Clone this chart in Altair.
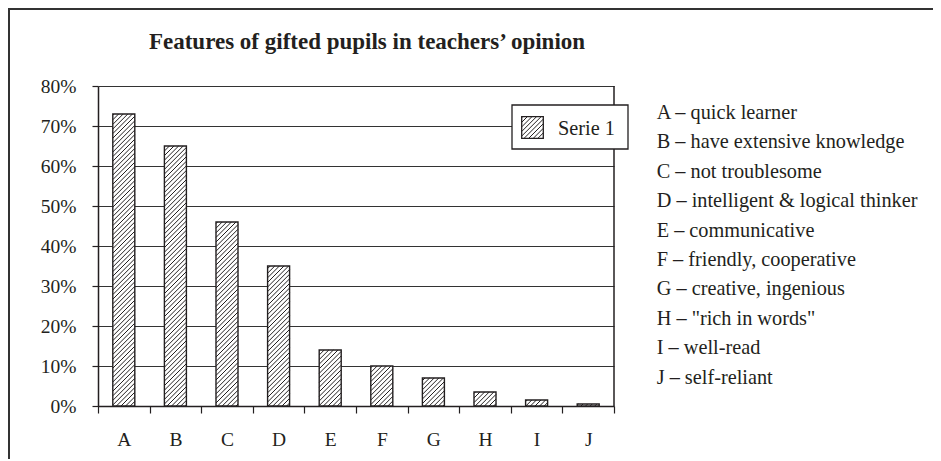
import json
import math
import altair as alt
import pandas as pd

# ---------------- data ----------------
categories = ["A", "B", "C", "D", "E", "F", "G", "H", "I", "J"]
values = [73, 65, 46, 35, 14, 10, 7, 3.5, 1.5, 0.5]
descriptions = [
    "quick learner",
    "have extensive knowledge",
    "not troublesome",
    "intelligent & logical thinker",
    "communicative",
    "friendly, cooperative",
    "creative, ingenious",
    "\"rich in words\"",
    "well-read",
    "self-reliant",
]
y_ticks = [0, 10, 20, 30, 40, 50, 60, 70, 80]
series_name = "Serie 1"
chart_title = "Features of gifted pupils in teachers\u2019 opinion"

# ---------------- layout / style ----------------
W, H = 516, 320
Y_MAX = 80
N = len(categories)
PX_X = W / N
PX_Y = H / Y_MAX
BAR_W = 22
HATCH_STEP = 4.6
INK = "#231f20"
FONT = "Liberation Serif"
FS = 19.5
FS_DESC = 20.3


def ux(px):
    return px / PX_X


def uy(py):
    # py: screen pixels below the plot's top edge
    return (H - py) / PX_Y


xs = alt.Scale(domain=[0, N], nice=False, zero=False)
ys = alt.Scale(domain=[0, Y_MAX], nice=False)

x_axis = alt.Axis(
    values=list(range(N + 1)),
    labelExpr=f"datum.value < {N} ? {json.dumps(categories)}[datum.value] : ''",
    labelOffset=PX_X / 2,
    labelFlush=False,
    labelOverlap=False,
    grid=False,
    tickSize=7,
    tickWidth=1.2,
    tickColor=INK,
    domainColor=INK,
    domainWidth=1.5,
    labelPadding=17,
    labelFont=FONT,
    labelFontSize=FS,
    labelColor=INK,
    labelBaseline="top",
    title=None,
)
y_axis = alt.Axis(
    values=y_ticks,
    labelExpr="datum.value + '%'",
    labelFlush=False,
    labelOverlap=False,
    grid=True,
    gridColor="#333333",
    gridWidth=1,
    tickSize=6,
    tickWidth=1.2,
    tickColor=INK,
    domainColor=INK,
    domainWidth=1.5,
    labelPadding=16,
    labelFont=FONT,
    labelFontSize=FS,
    labelColor=INK,
    title=None,
)


def X(f):
    return alt.X(f, scale=xs, axis=x_axis)


def Y(f):
    return alt.Y(f, scale=ys, axis=y_axis)


# ---------------- derived tables ----------------
bar_rows, hatch_rows = [], []
for i, (c, v) in enumerate(zip(categories, values)):
    cx = (i + 0.5) * PX_X
    u0, u1 = cx - BAR_W / 2, cx + BAR_W / 2
    h = v * PX_Y
    bar_rows.append(dict(cat=c, value=v, x0=ux(u0), x1=ux(u1), base=0))
    k0 = math.floor((u0 - h) / HATCH_STEP) - 1
    k1 = math.ceil(u1 / HATCH_STEP) + 1
    for k in range(k0, k1 + 1):
        cc = k * HATCH_STEP
        wl = max(0.0, u0 - cc)
        wu = min(h, u1 - cc)
        if wu - wl > 0.4:
            hatch_rows.append(dict(x=ux(cc + wl), y=wl / PX_Y, x2=ux(cc + wu), y2=wu / PX_Y))

bars = pd.DataFrame(bar_rows)
hatch = pd.DataFrame(hatch_rows)

# legend box (pixel layout relative to plot origin)
LB = dict(x0=414, x1=530, y0=19, y1=63)
SQ = dict(x0=423.7, x1=445.3, y0=30.7, y1=52.3)
legend_box = pd.DataFrame([dict(x=ux(LB["x0"]), x2=ux(LB["x1"]), y=uy(LB["y0"]), y2=uy(LB["y1"]))])
legend_sq = pd.DataFrame([dict(x=ux(SQ["x0"]), x2=ux(SQ["x1"]), y=uy(SQ["y0"]), y2=uy(SQ["y1"]))])
sq_rows = []
c_start = math.floor((SQ["x0"] + SQ["y0"]) / HATCH_STEP)
c_end = math.ceil((SQ["x1"] + SQ["y1"]) / HATCH_STEP)
for k in range(c_start, c_end + 1):
    cc = k * HATCH_STEP
    xa = max(SQ["x0"], cc - SQ["y1"])
    xb = min(SQ["x1"], cc - SQ["y0"])
    if xb - xa > 0.4:
        sq_rows.append(dict(x=ux(xa), y=uy(cc - xa), x2=ux(xb), y2=uy(cc - xb)))
sq_hatch = pd.DataFrame(sq_rows)
legend_label = pd.DataFrame([dict(x=ux(460), y=uy(48.5), t=series_name)])

desc = pd.DataFrame(
    [
        dict(x=ux(558.7), y=uy(33 + 29.4 * i), t=f"{c} \u2013 {d}")
        for i, (c, d) in enumerate(zip(categories, descriptions))
    ]
)
title_df = pd.DataFrame([dict(x=ux(269), y=uy(-37.3), t=chart_title)])
border_df = pd.DataFrame([dict(x=N, y=0, y2=Y_MAX)])

# ---------------- layers ----------------
frame = (
    alt.Chart(alt.Data(values=[{}]))
    .mark_rect(fill="transparent", stroke="#333333", strokeWidth=2)
    .encode(x=alt.value(-89), x2=alt.value(900), y=alt.value(-77), y2=alt.value(500))
)

bar_fill = alt.Chart(bars).mark_rect(fill="white").encode(
    x=X("x0:Q"), x2="x1:Q", y=Y("value:Q"), y2="base:Q"
)
bar_hatch = alt.Chart(hatch).mark_rule(color=INK, strokeWidth=1).encode(
    x=X("x:Q"), x2="x2:Q", y=Y("y:Q"), y2="y2:Q"
)
bar_outline = alt.Chart(bars).mark_rect(fill="transparent", stroke=INK, strokeWidth=1.4).encode(
    x=X("x0:Q"), x2="x1:Q", y=Y("value:Q"), y2="base:Q"
)
right_border = alt.Chart(border_df).mark_rule(color=INK, strokeWidth=1.5).encode(
    x=X("x:Q"), y=Y("y:Q"), y2="y2:Q"
)
lbox = alt.Chart(legend_box).mark_rect(fill="white", stroke=INK, strokeWidth=1.3).encode(
    x=X("x:Q"), x2="x2:Q", y=Y("y:Q"), y2="y2:Q"
)
lsq = alt.Chart(legend_sq).mark_rect(fill="white", stroke=INK, strokeWidth=1.3).encode(
    x=X("x:Q"), x2="x2:Q", y=Y("y:Q"), y2="y2:Q"
)
lsq_hatch = alt.Chart(sq_hatch).mark_rule(color=INK, strokeWidth=1).encode(
    x=X("x:Q"), x2="x2:Q", y=Y("y:Q"), y2="y2:Q"
)
ltext = alt.Chart(legend_label).mark_text(
    align="left", baseline="alphabetic", font=FONT, fontSize=FS_DESC, color=INK
).encode(x=X("x:Q"), y=Y("y:Q"), text="t:N")
desc_text = alt.Chart(desc).mark_text(
    align="left", baseline="alphabetic", font=FONT, fontSize=FS_DESC, color=INK
).encode(x=X("x:Q"), y=Y("y:Q"), text="t:N")
title_text = alt.Chart(title_df).mark_text(
    align="center", baseline="alphabetic", font=FONT, fontSize=23, fontWeight="bold", color=INK
).encode(x=X("x:Q"), y=Y("y:Q"), text="t:N")

chart = (
    alt.layer(
        frame, bar_fill, bar_hatch, bar_outline, right_border,
        lbox, lsq, lsq_hatch, ltext, desc_text, title_text,
    )
    .properties(
        width=W,
        height=H,
        autosize=alt.AutoSizeParams(type="none"),
        padding={"left": 90, "top": 78, "right": 319, "bottom": 53},
        background="white",
    )
    .configure_view(strokeWidth=0)
)

chart.save("out.html", embed_options={"renderer": "svg", "actions": False})
